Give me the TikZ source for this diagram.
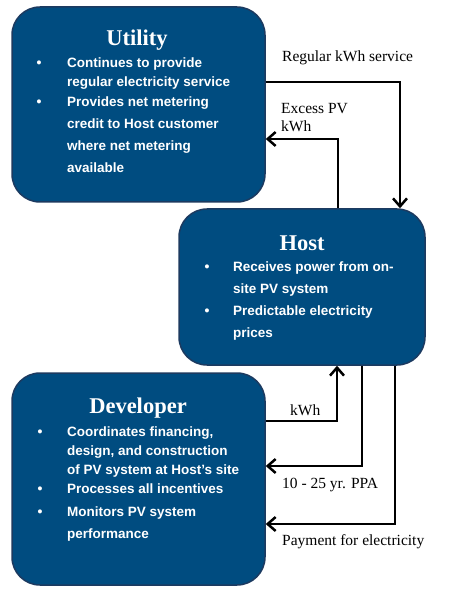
\documentclass[tikz,border=0pt]{standalone}
\usepackage{fontspec}
\setmainfont{Liberation Serif}
\newfontfamily\itemfont{Liberation Sans}
\usetikzlibrary{arrows.meta}

\definecolor{boxblue}{RGB}{0,76,128}
\definecolor{boxedge}{RGB}{28,58,96}

\tikzset{
  box/.style={draw=boxedge, line width=1.5pt, fill=boxblue, rounded corners=28pt, inner sep=0pt},
  heading/.style={text=white, font=\fontsize{22.5}{22.5}\selectfont\bfseries},
  % base of a multi-line item is its last line
  item/.style={text=white, anchor=base west, align=left, inner sep=0pt,
    font=\itemfont\bfseries\fontsize{13.5}{#1}\selectfont},
  item/.default=22,
  dot/.style={text=white, anchor=base, inner sep=0pt, font=\itemfont\bfseries\fontsize{14}{14}\selectfont},
  flow/.style={line width=2.5pt, -{Straight Barb[length=8pt,width=14pt]}},
  lbl/.style={anchor=base west, align=left, inner sep=0pt, font=\fontsize{15.5}{18}\selectfont}
}

\begin{document}
\begin{tikzpicture}[x=1pt,y=-1pt]
  \useasboundingbox (0,0) rectangle (450,593);

  % boxes
  \node[box, minimum width=253pt, minimum height=195pt] (utility) at (138.5,104.5) {};
  \node[box, minimum width=246pt, minimum height=156pt] (host) at (302,287) {};
  \node[box, minimum width=253pt, minimum height=212pt] (developer) at (138.5,479) {};

  % Utility
  \node[heading] (utilitytitle) at (137,40) {Utility};
  \node[dot] (ud1) at (39,68) {•};
  \node[item=19] (ui1) at (67,87) {Continues to provide\\regular electricity service};
  \node[dot] (ud2) at (39,107) {•};
  \node[item] (ui2) at (67,173) {Provides net metering\\credit to Host customer\\where net metering\\available};

  % Host
  \node[heading] (hosttitle) at (302,243) {Host};
  \node[dot] (hd1) at (207,271) {•};
  \node[item] (hi1) at (233,293) {Receives power from on-\\site PV system};
  \node[dot] (hd2) at (207,315) {•};
  \node[item] (hi2) at (233,337) {Predictable electricity\\prices};

  % Developer
  \node[heading] (developertitle) at (138,408) {Developer};
  \node[dot] (dd1) at (40,436) {•};
  \node[item=19] (di1) at (67,474) {Coordinates financing,\\design, and construction\\of PV system at Host’s site};
  \node[dot] (dd2) at (40,493) {•};
  \node[item] (di2) at (67,493) {Processes all incentives};
  \node[dot] (dd3) at (40,516) {•};
  \node[item] (di3) at (67,538) {Monitors PV system\\performance};

  % flows
  \draw[flow] (utility.east |- 0,82) -| (host.north -| 400,0);
  \draw[flow] (host.north -| 338,0) |- (utility.east |- 0,139);
  \draw[flow] (developer.east |- 0,421) -| (host.south -| 337,0);
  \draw[flow] (host.south -| 362,0) |- (developer.east |- 0,466);
  \draw[flow] (host.south -| 395,0) |- (developer.east |- 0,524);

  % labels
  \node[lbl] (regular) at (282,62) {Regular kWh service};
  \node[lbl] (excess) at (281,132) {Excess PV\\kWh};
  \node[lbl] (kwh) at (290,415) {kWh};
  \node[lbl] (ppa) at (282,488) {10 - 25 yr. PPA};
  \node[lbl] (payment) at (282,545) {Payment for electricity};
\end{tikzpicture}
\end{document}
